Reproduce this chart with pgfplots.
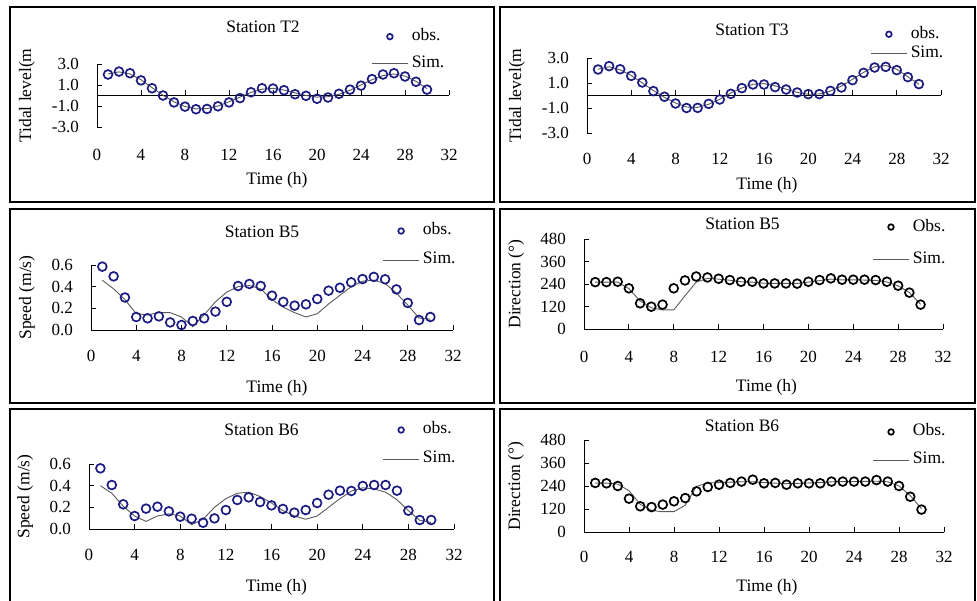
\documentclass[border=0pt]{standalone}
\usepackage{fontspec}
\setmainfont{Liberation Serif}
\usepackage{pgfplots}
\pgfplotsset{compat=1.18}
\definecolor{obsblue}{RGB}{28,28,130}
\definecolor{simgray}{RGB}{90,90,90}
\newcommand\labf{\fontsize{17.5}{20}\selectfont}
\newcommand\tickf{\fontsize{17}{20}\selectfont}

\pgfplotsset{
  base/.style={scale only axis, anchor=south west, xmin=0, xmax=32, xtick={0,4,...,32},
    enlargelimits=false, clip=false, tick align=inside, major tick length=5pt,
    axis line style={-, line width=0.9pt}, tick style={line width=0.9pt, black},
    tick label style={font=\tickf}, /pgf/number format/assume math mode=true,
    scaled ticks=false,
    xticklabel style={anchor=center, inner sep=0pt},
    yticklabel style={anchor=east, inner sep=0pt, xshift=-18pt},
    label style={font=\labf}, title style={font=\labf, at={(axis description cs:0.5,1)}, anchor=center},
    xlabel={Time (h)}, xlabel style={font=\labf, at={(axis description cs:0.5,0)}, anchor=center},
    ylabel style={font=\labf, anchor=center},
    legend style={draw=none, fill=none, inner sep=0pt, font=\labf, anchor=west,
      column sep=3pt, nodes={inner sep=0pt, text height=12pt, text depth=4pt}},
    legend cell align=left, reverse legend},
  tidal/.style={axis y line=left, axis x line=middle, hide obscured x ticks=false,
    ymin=-3, ymax=3, ytick={-3,-1,1,3},
    yticklabel style={/pgf/number format/fixed, /pgf/number format/fixed zerofill,
      /pgf/number format/precision=1}},
  speed/.style={axis lines=left, ymin=0, ymax=0.6, ytick={0,0.2,0.4,0.6},
    yticklabel style={/pgf/number format/fixed, /pgf/number format/fixed zerofill,
      /pgf/number format/precision=1}},
  dir/.style={axis lines=left, ymin=0, ymax=480, ytick={0,120,...,480}},
  obsleg/.style={legend image code/.code={\path (0pt,0pt) (36pt,0pt);
      \draw[##1, mark size=2.8pt] plot coordinates {(18pt,0pt)};}},
  simleg/.style={legend image code/.code={\draw[##1] (0pt,0pt) -- (36pt,0pt);}},
  simline/.style={simgray, line width=0.9pt, simleg},
  obsmark/.style={only marks, mark=o, mark size=4.4pt, line width=1.7pt,
    mark options={line width=1.7pt, fill=white}, obsleg},
}

\begin{document}
\begin{tikzpicture}
\useasboundingbox (0pt,0pt) rectangle (977pt,600pt);
% panel frames
\begin{scope}[line width=2pt]
  \draw (10pt,593pt) rectangle (494pt,398pt);
  \draw (500pt,593pt) rectangle (975pt,398pt);
  \draw (10pt,391pt) rectangle (494pt,197pt);
  \draw (500pt,391pt) rectangle (975pt,197pt);
  \draw (10pt,191pt) rectangle (494pt,-4pt);
  \draw (500pt,191pt) rectangle (975pt,-4pt);
\end{scope}

% Station T2
\begin{axis}[tidal, base, at={(97pt,473pt)}, width=352pt, height=63pt,
  title={Station T2}, title style={xshift=-10pt, yshift=31pt},
  ylabel={Tidal level(m}, ylabel style={at={(axis description cs:-0.199,0.5)}},
  xlabel style={xshift=4pt, yshift=-53pt}, xticklabel style={yshift=-59pt},
  legend style={at={(axis description cs:0.778,1.22)}, row sep=11pt}]
\addplot[simline] coordinates {(1,2.05)(2,2.25)(3,2.05)(4,1.5)(5,0.75)(6,0.02)(7,-0.6)(8,-1.05)(9,-1.27)(10,-1.25)(11,-1.0)(12,-0.6)(13,-0.15)(14,0.3)(15,0.6)(16,0.68)(17,0.52)(18,0.25)(19,0.0)(20,-0.15)(21,-0.12)(22,0.12)(23,0.5)(24,1.0)(25,1.5)(26,1.9)(27,2.05)(28,1.85)(29,1.35)(30,0.65)};
\addlegendentry{Sim.}
\addplot[obsmark, obsblue] coordinates {(1,2.0)(2,2.28)(3,2.12)(4,1.44)(5,0.69)(6,0.0)(7,-0.66)(8,-1.06)(9,-1.31)(10,-1.28)(11,-1.03)(12,-0.66)(13,-0.25)(14,0.31)(15,0.69)(16,0.66)(17,0.5)(18,0.12)(19,-0.03)(20,-0.31)(21,-0.19)(22,0.16)(23,0.56)(24,0.94)(25,1.56)(26,2.0)(27,2.12)(28,1.81)(29,1.31)(30,0.56)};
\addlegendentry{obs.}
\end{axis}

% Station T3
\begin{axis}[tidal, base, at={(587pt,467pt)}, width=354pt, height=75pt,
  title={Station T3}, title style={xshift=-12pt, yshift=22pt},
  ylabel={Tidal level(m}, ylabel style={at={(axis description cs:-0.198,0.5)}},
  xlabel style={xshift=3pt, yshift=-52pt}, xticklabel style={yshift=-63pt},
  legend style={at={(axis description cs:0.799,1.19)}, row sep=3pt}]
\addplot[simline] coordinates {(1,2.1)(2,2.3)(3,2.05)(4,1.6)(5,1.0)(6,0.4)(7,-0.15)(8,-0.6)(9,-0.92)(10,-0.95)(11,-0.7)(12,-0.3)(13,0.2)(14,0.6)(15,0.9)(16,0.95)(17,0.78)(18,0.5)(19,0.25)(20,0.1)(21,0.12)(22,0.35)(23,0.75)(24,1.3)(25,1.85)(26,2.3)(27,2.4)(28,2.1)(29,1.5)(30,0.9)};
\addlegendentry{Sim.}
\addplot[obsmark, obsblue] coordinates {(1,2.08)(2,2.35)(3,2.1)(4,1.57)(5,1.04)(6,0.35)(7,-0.1)(8,-0.64)(9,-1.0)(10,-0.99)(11,-0.67)(12,-0.32)(13,0.13)(14,0.59)(15,0.88)(16,0.88)(17,0.67)(18,0.48)(19,0.24)(20,0.11)(21,0.11)(22,0.37)(23,0.64)(24,1.23)(25,1.81)(26,2.24)(27,2.29)(28,2.03)(29,1.47)(30,0.91)};
\addlegendentry{obs.}
\end{axis}

% Station B5 speed
\begin{axis}[speed, base, at={(91pt,270pt)}, width=362pt, height=65pt,
  title={Station B5}, title style={xshift=-10pt, yshift=27pt},
  ylabel={Speed (m/s)}, ylabel style={at={(axis description cs:-0.177,0.5)}},
  xlabel style={xshift=5pt, yshift=-58pt}, xticklabel style={yshift=-26pt},
  legend style={at={(axis description cs:0.804,1.30)}, row sep=13pt}]
\addplot[simline] coordinates {(1,0.46)(2,0.38)(3,0.28)(4,0.15)(5,0.14)(6,0.16)(7,0.16)(8,0.12)(9,0.03)(10,0.14)(11,0.26)(12,0.35)(13,0.40)(14,0.41)(15,0.38)(16,0.28)(17,0.21)(18,0.16)(19,0.12)(20,0.15)(21,0.24)(22,0.32)(23,0.40)(24,0.45)(25,0.46)(26,0.43)(27,0.34)(28,0.23)(29,0.11)(30,0.10)};
\addlegendentry{Sim.}
\addplot[obsmark, obsblue] coordinates {(1,0.585)(2,0.495)(3,0.30)(4,0.12)(5,0.108)(6,0.126)(7,0.07)(8,0.046)(9,0.083)(10,0.108)(11,0.17)(12,0.26)(13,0.406)(14,0.425)(15,0.406)(16,0.317)(17,0.26)(18,0.225)(19,0.237)(20,0.286)(21,0.363)(22,0.39)(23,0.44)(24,0.47)(25,0.49)(26,0.468)(27,0.375)(28,0.25)(29,0.092)(30,0.12)};
\addlegendentry{obs.}
\end{axis}

% Station B5 direction
\begin{axis}[dir, base, at={(584pt,271pt)}, width=359pt, height=90pt,
  title={Station B5}, title style={xshift=-21pt, yshift=9pt},
  ylabel={Direction (°)}, ylabel style={at={(axis description cs:-0.189,0.5)}},
  xlabel style={xshift=3pt, yshift=-58pt}, xticklabel style={yshift=-28pt},
  legend style={at={(axis description cs:0.802,0.955)}, row sep=16pt}]
\addplot[simline] coordinates {(1,250)(2,250)(3,250)(4,215)(5,150)(6,113)(7,102)(8,102)(9,177)(10,250)(11,270)(12,266)(13,260)(14,252)(15,250)(16,244)(17,243)(18,243)(19,243)(20,250)(21,258)(22,266)(23,262)(24,262)(25,261)(26,259)(27,251)(28,230)(29,195)(30,132)};
\addlegendentry{Sim.}
\addplot[obsmark, black] coordinates {(1,250)(2,250)(3,252)(4,217)(5,137)(6,119)(7,130)(8,217)(9,259)(10,280)(11,275)(12,268)(13,261)(14,252)(15,252)(16,243)(17,243)(18,243)(19,242)(20,252)(21,261)(22,270)(23,263)(24,263)(25,263)(26,261)(27,252)(28,231)(29,194)(30,130)};
\addlegendentry{Obs.}
\end{axis}

% Station B6 speed
\begin{axis}[speed, base, at={(89pt,71pt)}, width=365pt, height=65pt,
  title={Station B6}, title style={xshift=-10pt, yshift=28pt},
  ylabel={Speed (m/s)}, ylabel style={at={(axis description cs:-0.175,0.5)}},
  xlabel style={xshift=5pt, yshift=-58pt}, xticklabel style={yshift=-26pt},
  legend style={at={(axis description cs:0.803,1.30)}, row sep=13pt}]
\addplot[simline] coordinates {(1,0.40)(2,0.33)(3,0.21)(4,0.12)(5,0.07)(6,0.12)(7,0.14)(8,0.12)(9,0.04)(10,0.09)(11,0.20)(12,0.28)(13,0.33)(14,0.34)(15,0.30)(16,0.24)(17,0.17)(18,0.12)(19,0.09)(20,0.12)(21,0.20)(22,0.28)(23,0.35)(24,0.38)(25,0.37)(26,0.34)(27,0.27)(28,0.17)(29,0.08)(30,0.06)};
\addlegendentry{Sim.}
\addplot[obsmark, obsblue] coordinates {(1,0.56)(2,0.406)(3,0.228)(4,0.12)(5,0.188)(6,0.206)(7,0.163)(8,0.114)(9,0.095)(10,0.058)(11,0.098)(12,0.175)(13,0.268)(14,0.292)(15,0.249)(16,0.218)(17,0.185)(18,0.151)(19,0.175)(20,0.24)(21,0.317)(22,0.354)(23,0.351)(24,0.397)(25,0.406)(26,0.406)(27,0.354)(28,0.169)(29,0.083)(30,0.083)};
\addlegendentry{obs.}
\end{axis}

% Station B6 direction
\begin{axis}[dir, base, at={(584pt,68pt)}, width=360pt, height=92pt,
  title={Station B6}, title style={xshift=-22pt, yshift=8pt},
  ylabel={Direction (°)}, ylabel style={at={(axis description cs:-0.189,0.5)}},
  xlabel style={xshift=3pt, yshift=-55pt}, xticklabel style={yshift=-25pt},
  legend style={at={(axis description cs:0.8,0.935)}, row sep=12pt}]
\addplot[simline] coordinates {(1,255)(2,255)(3,250)(4,215)(5,145)(6,112)(7,106)(8,106)(9,140)(10,238)(11,256)(12,258)(13,260)(14,262)(15,262)(16,258)(17,255)(18,252)(19,254)(20,256)(21,258)(22,262)(23,263)(24,263)(25,264)(26,265)(27,262)(28,240)(29,190)(30,122)};
\addlegendentry{Sim.}
\addplot[obsmark, black] coordinates {(1,256)(2,254)(3,240)(4,174)(5,134)(6,130)(7,143)(8,160)(9,177)(10,212)(11,235)(12,247)(13,256)(14,263)(15,273)(16,254)(17,256)(18,247)(19,254)(20,254)(21,254)(22,263)(23,263)(24,263)(25,263)(26,271)(27,263)(28,240)(29,184)(30,117)};
\addlegendentry{Obs.}
\end{axis}
\end{tikzpicture}
\end{document}
